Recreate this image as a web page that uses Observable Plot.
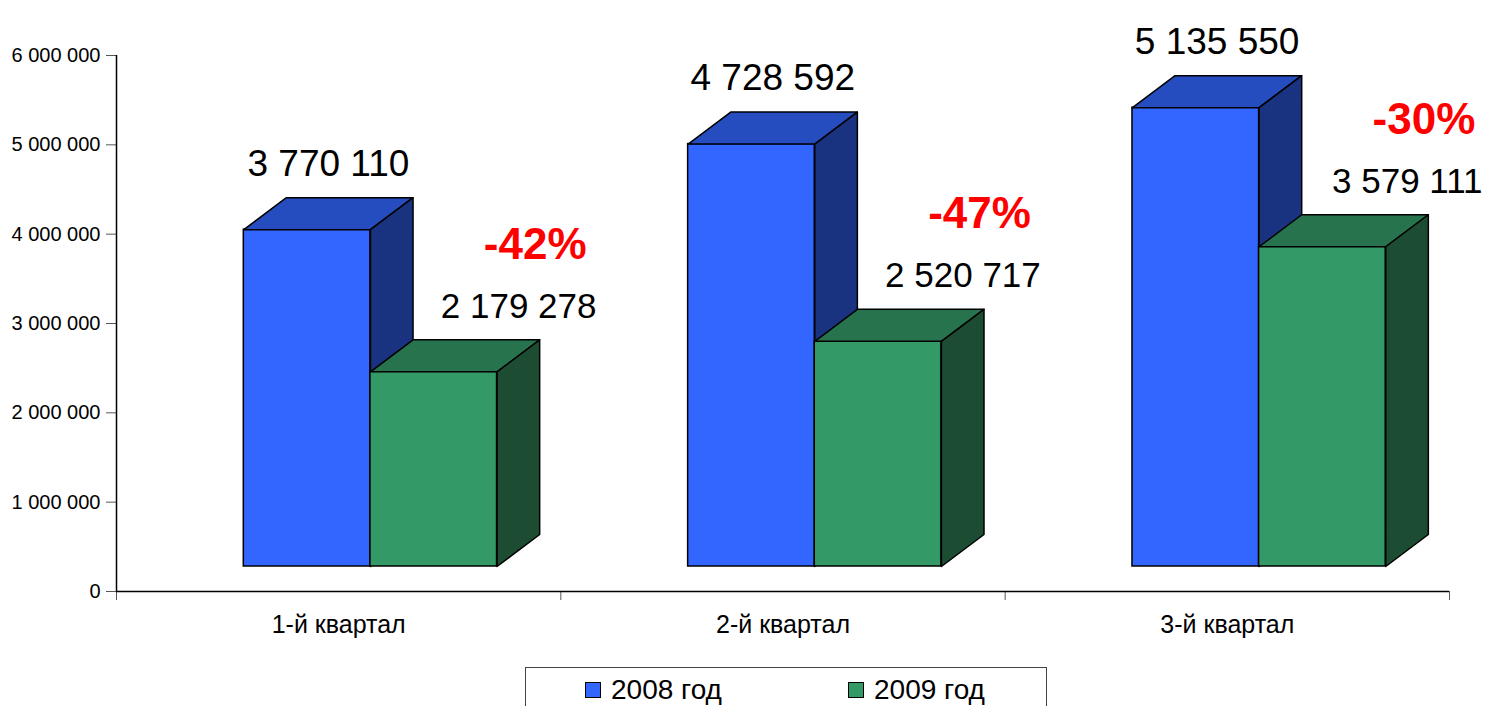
<!DOCTYPE html>
<html><head><meta charset="utf-8">
<script src="https://cdn.jsdelivr.net/npm/d3@7"></script>
<script src="https://cdn.jsdelivr.net/npm/@observablehq/plot@0.6"></script>
<style>
body{margin:0;background:#fff;font-family:Arial,"Liberation Sans",sans-serif}
#wrap{position:relative;width:1489px;height:706px;overflow:hidden}
.legend{position:absolute;left:525px;top:667px;width:522px;height:50px;border:1px solid #444;box-sizing:border-box}
.item{position:absolute;top:6px;height:32px;display:flex;align-items:center;font-size:28px;color:#000;white-space:nowrap}
.sw{width:14px;height:14px;border:1px solid #000;margin-right:10px}
</style></head>
<body><div id="wrap"></div>
<script>
// ---- data ----
const quarters = ["1-й квартал", "2-й квартал", "3-й квартал"];
const seriesNames = ["2008 год", "2009 год"];
const values2008 = [3770110, 4728592, 5135550];
const values2009 = [2179278, 2520717, 3579111];
const yTicks = [0, 1000000, 2000000, 3000000, 4000000, 5000000, 6000000];

// ---- layout / style ----
const W = 1489, H = 660, ML = 116, MR = 40, MT = 55, MB = 69;
const faceColors = [
  {front: "#3366ff", top: "#264dbf", side: "#1a3380"},
  {front: "#339966", top: "#26734d", side: "#1c4d33"}
];
const barOffset = 0.2865, barWidth = 0.285;
const depthXpx = 42.6, depthYpx = 32, frontShift = -25;
const pxPerX = (W - ML - MR) / quarters.length;
const pxPerY = (H - MT - MB) / 6000000;
const dxu = depthXpx / pxPerX, dyu = depthYpx / pxPerY;
const fmt = d => d3.format(",")(d).replace(/,/g, " ");

const allValues = [values2008, values2009];
const fronts = [], tops = [], sides = [];
allValues.forEach((vals, s) => {
  fronts[s] = []; tops[s] = []; sides[s] = [];
  vals.forEach((v, i) => {
    const x1 = i + barOffset + s * barWidth, x2 = x1 + barWidth;
    fronts[s].push({x1, x2, v});
    const k = quarters[i];
    [[x1, v], [x2, v], [x2 + dxu, v + dyu], [x1 + dxu, v + dyu]]
      .forEach(([x, y]) => tops[s].push({k, x, y}));
    [[x2, 0], [x2, v], [x2 + dxu, v + dyu], [x2 + dxu, dyu]]
      .forEach(([x, y]) => sides[s].push({k, x, y}));
  });
});

const barMarks = [];
[0, 1].forEach(s => {
  barMarks.push(
    Plot.rect(fronts[s], {x1: "x1", x2: "x2", y1: 0, y2: "v", fill: faceColors[s].front,
      stroke: "#000", strokeWidth: 1.5, dy: frontShift}),
    Plot.line(tops[s], {x: "x", y: "y", z: "k", curve: "linear-closed", fill: faceColors[s].top,
      stroke: "#000", strokeWidth: 1.5, dy: frontShift}),
    Plot.line(sides[s], {x: "x", y: "y", z: "k", curve: "linear-closed", fill: faceColors[s].side,
      stroke: "#000", strokeWidth: 1.5, dy: frontShift})
  );
});

const font = "Arial, 'Liberation Sans', sans-serif";

const chart = Plot.plot({
  width: W, height: H,
  marginLeft: ML, marginRight: MR, marginTop: MT, marginBottom: MB,
  style: {fontFamily: font, background: "#fff", color: "#000"},
  x: {type: "linear", domain: [0, quarters.length], axis: null},
  y: {domain: [0, 6000000], axis: null},
  marks: [
    Plot.axisY({ticks: yTicks, tickSize: 10, tickPadding: 6, tickFormat: fmt, fontSize: 20,
      fontFamily: font, stroke: "#555", fill: "#000"}),
    Plot.axisX({ticks: d3.range(quarters.length + 1), tickSize: 9, tickFormat: () => "", stroke: "#555"}),
    Plot.ruleX([0], {y1: 0, y2: 6000000, stroke: "#000", strokeWidth: 1.5}),
    Plot.ruleY([0], {x1: 0, x2: quarters.length, stroke: "#000", strokeWidth: 1.5}),
    ...barMarks,
    Plot.text(quarters, {x: (d, i) => i + 0.5, y: () => 0, text: d => d, dy: 41, lineAnchor: "bottom",
      fontSize: 25, fontFamily: font, fill: "#000"}),
    Plot.text(values2008, {x: (d, i) => i + barOffset + (barWidth + dxu) / 2, y: d => d, text: fmt,
      dy: -79, lineAnchor: "bottom", fontSize: 37, fontFamily: font, fill: "#000"}),
    Plot.text(values2009, {x: (d, i) => i + 0.905, y: d => d, text: fmt,
      dy: -79, lineAnchor: "bottom", fontSize: 35, fontFamily: font, fill: "#000"}),
    Plot.text(values2009, {x: (d, i) => i + barOffset + 2 * barWidth + dxu - 0.01, y: d => d,
      text: (d, i) => Math.round((d - values2008[i]) / values2008[i] * 100) + "%",
      dy: -138, lineAnchor: "bottom", fontSize: 44, fontWeight: "bold", fontFamily: font, fill: "#ff0000"})
  ]
});

const wrap = document.getElementById("wrap");
wrap.appendChild(chart);
const legend = document.createElement("div");
legend.className = "legend";
const legendLeft = [59, 322];
seriesNames.forEach((name, s) => {
  const item = document.createElement("div");
  item.className = "item";
  item.style.left = legendLeft[s] + "px";
  const sw = document.createElement("span");
  sw.className = "sw";
  sw.style.background = faceColors[s].front;
  const t = document.createElement("span");
  t.textContent = name;
  item.appendChild(sw); item.appendChild(t);
  legend.appendChild(item);
});
wrap.appendChild(legend);
</script>
</body></html>
